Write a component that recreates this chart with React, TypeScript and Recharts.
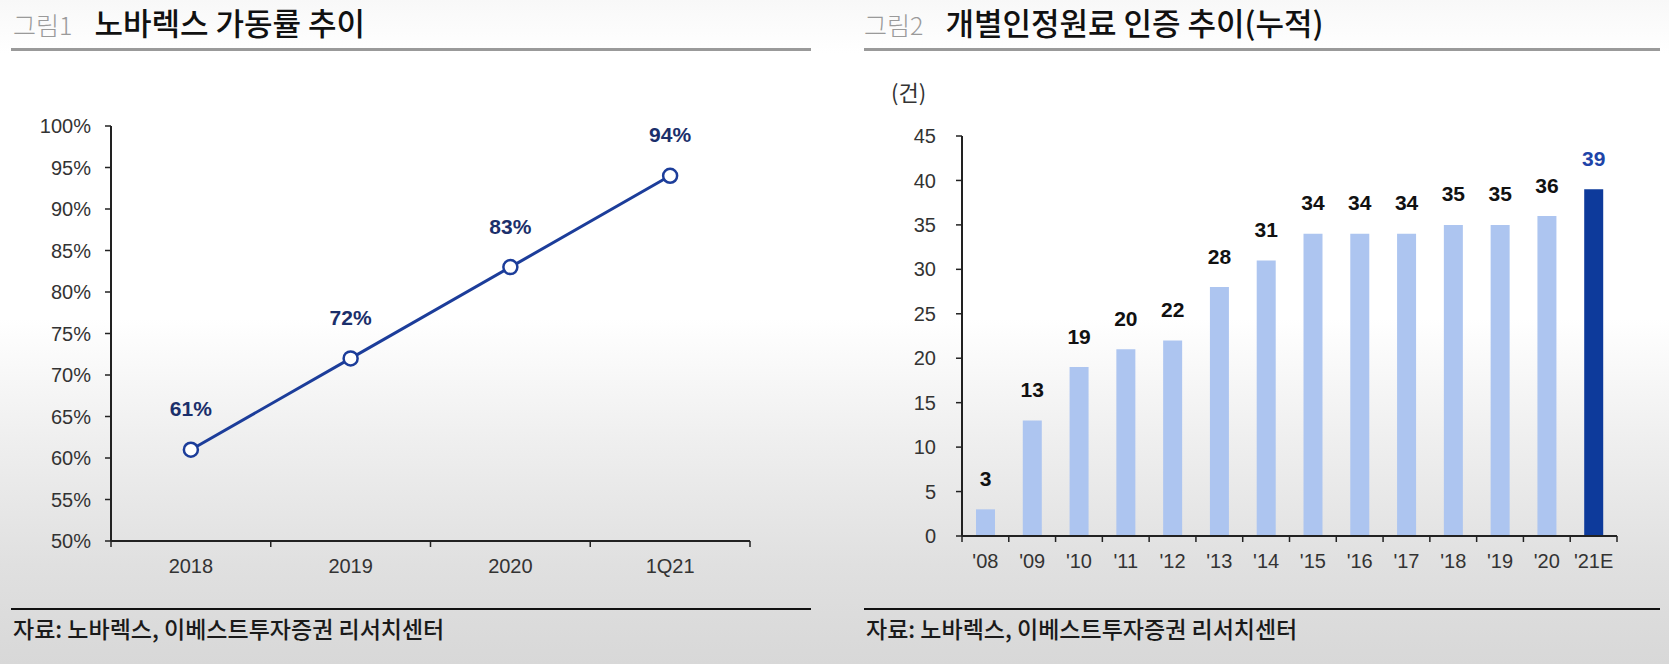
import React from 'react';
import { LineChart, Line, XAxis, YAxis, BarChart, Bar, Cell, LabelList } from 'recharts';

// ---------- data ----------
const rateCategories = ['2018', '2019', '2020', '1Q21'];
const rateValues = [61, 72, 83, 94];
const rateTicks = [50, 55, 60, 65, 70, 75, 80, 85, 90, 95, 100];

const certCategories = ["'08", "'09", "'10", "'11", "'12", "'13", "'14", "'15", "'16", "'17", "'18", "'19", "'20", "'21E"];
const certValues = [3, 13, 19, 21, 22, 28, 31, 34, 34, 34, 35, 35, 36, 39];
const certLabels = [3, 13, 19, 20, 22, 28, 31, 34, 34, 34, 35, 35, 36, 39];
const certTicks = [0, 5, 10, 15, 20, 25, 30, 35, 40, 45];

const rateData = rateCategories.map((c, i) => ({ name: c, value: rateValues[i] }));
const certData = certCategories.map((c, i) => ({ name: c, value: certValues[i], label: certLabels[i] }));

// ---------- styles ----------
const NUM_FONT = "'Liberation Sans', Arial, sans-serif";
const KR_FONT = "'Noto Sans CJK KR', 'Noto Sans', sans-serif";
const AXIS = '#222';
const LINE = '#1c3d9a';
const LIGHT_BAR = '#adc5f0';
const DARK_BAR = '#0d3a9b';

const makeXTick = (band: number, last: string) => (props: any) => {
  const { x, y, payload } = props;
  const lx = x - band / 2;
  const rx = x + band / 2;
  return (
    <g>
      <line x1={lx} y1={y} x2={lx} y2={y + 6} stroke={AXIS} strokeWidth={1.5} />
      {payload.value === last && <line x1={rx} y1={y} x2={rx} y2={y + 6} stroke={AXIS} strokeWidth={1.5} />}
      <text x={x} y={y + 25} textAnchor="middle" dominantBaseline="central" fill="#333" fontSize={20} fontFamily={NUM_FONT}>
        {payload.value}
      </text>
    </g>
  );
};

const LEFT_W = 811, LEFT_H = 600;
const leftMargin = { top: 126, right: 61, bottom: 19, left: 0 };
const leftYW = 111;
const leftBand = (LEFT_W - leftMargin.right - leftYW) / rateCategories.length;

const RIGHT_X = 860, RIGHT_W = 800, RIGHT_H = 600;
const rightMargin = { top: 136, right: 43, bottom: 24, left: 0 };
const rightYW = 102;
const rightBand = (RIGHT_W - rightMargin.right - rightYW) / certCategories.length;

const LineLabel = (props: any) => {
  const { x, y, value } = props;
  return (
    <text x={x} y={y - 41} textAnchor="middle" dominantBaseline="central" fill="#1b2f6b" fontSize={21} fontWeight="bold" fontFamily={NUM_FONT}>
      {value}%
    </text>
  );
};

const BarLabel = (props: any) => {
  const { x, y, width, value, index } = props;
  const isLast = index === certCategories.length - 1;
  return (
    <text x={x + width / 2} y={y - 31} textAnchor="middle" dominantBaseline="central" fill={isLast ? '#1e44a8' : '#111'} fontSize={21} fontWeight="bold" fontFamily={NUM_FONT}>
      {value}
    </text>
  );
};

const Title = ({ x, fig, text }: { x: number; fig: string; text: string }) => (
  <div style={{ position: 'absolute', left: x, top: 2, whiteSpace: 'nowrap', fontFamily: KR_FONT, lineHeight: '40px' }}>
    <span style={{ fontSize: 25, color: '#9a9a9a', fontWeight: 300 }}>{fig}</span>
    <span style={{ fontSize: 31, color: '#111', fontWeight: 500, marginLeft: 22 }}>{text}</span>
  </div>
);

const Source = ({ x }: { x: number }) => (
  <div style={{ position: 'absolute', left: x, top: 613, fontFamily: KR_FONT, fontSize: 23, fontWeight: 500, color: '#1a1a1a', lineHeight: '30px', whiteSpace: 'nowrap' }}>
    자료: 노바렉스, 이베스트투자증권 리서치센터
  </div>
);

export default function App() {
  return (
    <div
      style={{
        position: 'absolute', left: 0, top: 0, width: 1669, height: 664, overflow: 'hidden',
        background: 'linear-gradient(to bottom, #f8f8f8 0%, #ffffff 8%, #ffffff 48%, #efefef 66%, #e0e0e0 85%, #d8d8d8 100%)',
      }}
    >
      <Title x={13} fig="그림1" text="노바렉스 가동률 추이" />
      <Title x={864} fig="그림2" text="개별인정원료 인증 추이(누적)" />
      <div style={{ position: 'absolute', left: 11, top: 48, width: 800, height: 3, background: '#9a9a9a' }} />
      <div style={{ position: 'absolute', left: 864, top: 48, width: 796, height: 3, background: '#9a9a9a' }} />

      <div style={{ position: 'absolute', left: 891, top: 77, fontFamily: KR_FONT, fontSize: 22, color: '#333', lineHeight: '28px' }}>(건)</div>

      <div style={{ position: 'absolute', left: 0, top: 0 }}>
        <LineChart width={LEFT_W} height={LEFT_H} data={rateData} margin={leftMargin}>
          <XAxis
            dataKey="name"
            height={40}
            padding={{ left: leftBand / 2, right: leftBand / 2 }}
            tickLine={false}
            tickSize={0}
            tickMargin={0}
            axisLine={{ stroke: AXIS, strokeWidth: 2 }}
            tick={makeXTick(leftBand, rateCategories[rateCategories.length - 1])}
            interval={0}
          />
          <YAxis
            width={leftYW}
            domain={[50, 100]}
            ticks={rateTicks}
            interval={0}
            tickFormatter={(v: number) => `${v}%`}
            axisLine={{ stroke: AXIS, strokeWidth: 2 }}
            tickLine={{ stroke: AXIS, strokeWidth: 1.5 }}
            tickSize={6}
            tickMargin={14}
            tick={{ fill: '#333', fontSize: 20, fontFamily: NUM_FONT }}
          />
          <Line
            type="linear"
            dataKey="value"
            stroke={LINE}
            strokeWidth={3}
            dot={{ r: 7, fill: '#fff', stroke: LINE, strokeWidth: 2.5 }}
            isAnimationActive={false}
          >
            <LabelList dataKey="value" content={LineLabel} />
          </Line>
        </LineChart>
      </div>

      <div style={{ position: 'absolute', left: RIGHT_X, top: 0 }}>
        <BarChart width={RIGHT_W} height={RIGHT_H} data={certData} margin={rightMargin}>
          <XAxis
            dataKey="name"
            height={40}
            tickLine={false}
            tickSize={0}
            tickMargin={0}
            axisLine={{ stroke: AXIS, strokeWidth: 2 }}
            tick={makeXTick(rightBand, certCategories[certCategories.length - 1])}
            interval={0}
          />
          <YAxis
            width={rightYW}
            domain={[0, 45]}
            ticks={certTicks}
            interval={0}
            axisLine={{ stroke: AXIS, strokeWidth: 2 }}
            tickLine={{ stroke: AXIS, strokeWidth: 1.5 }}
            tickSize={6}
            tickMargin={20}
            tick={{ fill: '#333', fontSize: 20, fontFamily: NUM_FONT }}
          />
          <Bar dataKey="value" barSize={19} isAnimationActive={false}>
            {certData.map((d, i) => (
              <Cell key={d.name} fill={i === certData.length - 1 ? DARK_BAR : LIGHT_BAR} />
            ))}
            <LabelList dataKey="label" content={BarLabel} />
          </Bar>
        </BarChart>
      </div>

      <div style={{ position: 'absolute', left: 11, top: 608, width: 800, height: 2, background: '#111' }} />
      <div style={{ position: 'absolute', left: 864, top: 608, width: 796, height: 2, background: '#111' }} />
      <Source x={13} />
      <Source x={866} />
    </div>
  );
}
